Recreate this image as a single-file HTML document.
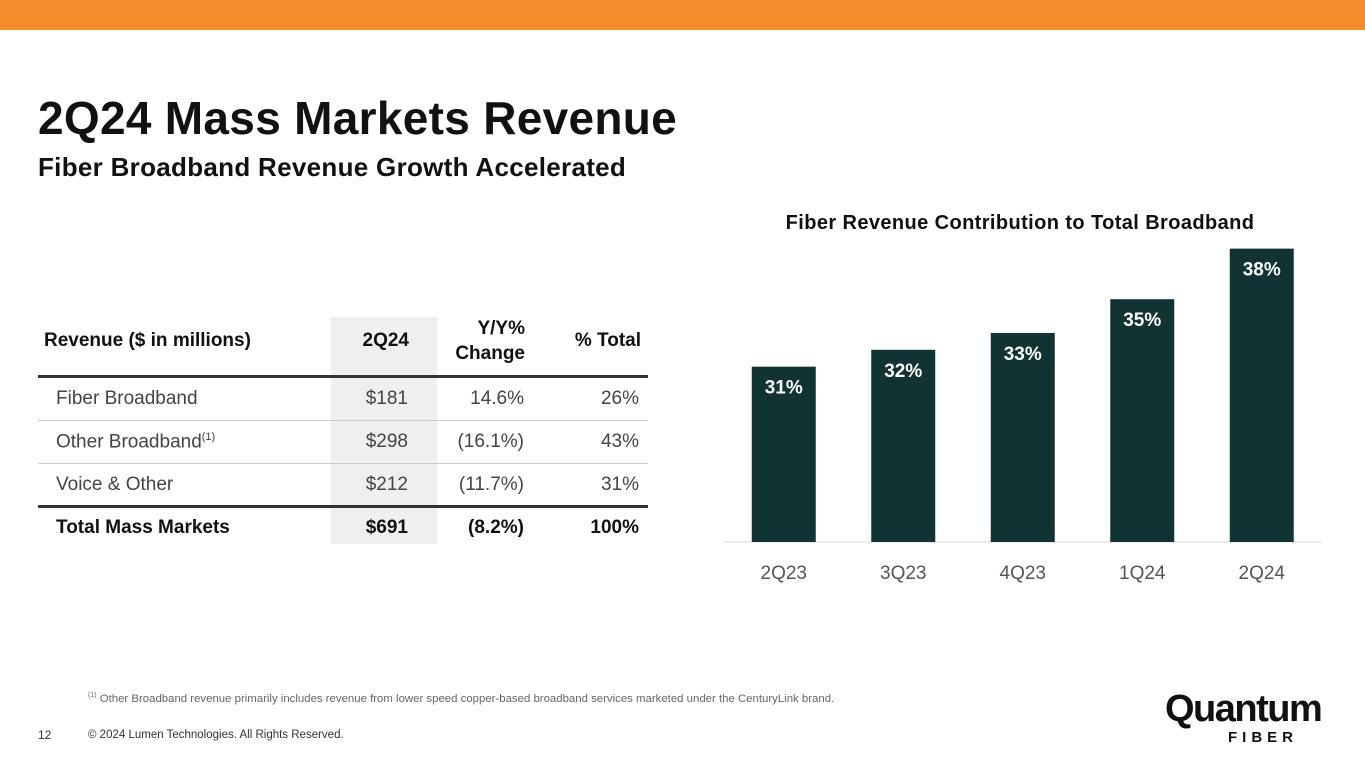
<!DOCTYPE html>
<html><head><meta charset="utf-8"><style>
body{margin:0;width:1365px;height:768px;position:relative;background:#fff;font-family:"Liberation Sans",sans-serif;overflow:hidden;color:#111}
.a{position:absolute;white-space:nowrap}
.c{position:absolute;text-align:right}
</style></head><body>
<div class="a" style="left:0;top:0;width:1365px;height:30px;background:#F68B2C"></div>
<div class="a" style="left:38px;top:91px;font-size:46px;font-weight:bold;letter-spacing:0.3px;color:#111">2Q24 Mass Markets Revenue</div>
<div class="a" style="left:38px;top:152px;font-size:26px;font-weight:bold;letter-spacing:0.3px;color:#111">Fiber Broadband Revenue Growth Accelerated</div>

<div>
<div class="a" style="left:331px;top:317px;width:106px;height:227px;background:#efefef"></div>
<div class="a" style="left:44px;top:330px;font-size:19px;font-weight:bold">Revenue ($ in millions)</div>
<div class="c" style="left:331px;width:78px;top:330px;font-size:19px;font-weight:bold">2Q24</div>
<div class="c" style="left:420px;width:105px;top:316px;font-size:19px;font-weight:bold;line-height:25px">Y/Y%<br>Change</div>
<div class="c" style="left:540px;width:101px;top:330px;font-size:19px;font-weight:bold">% Total</div>
<div class="a" style="left:38px;top:375px;width:610px;height:3px;background:#333"></div>
<div class="a" style="left:56px;top:388px;font-size:19px;color:#444">Fiber Broadband</div>
<div class="c" style="left:331px;width:77px;top:388px;font-size:19px;color:#444">$181</div>
<div class="c" style="left:420px;width:104px;top:388px;font-size:19px;color:#444">14.6%</div>
<div class="c" style="left:540px;width:99px;top:388px;font-size:19px;color:#444">26%</div>
<div class="a" style="left:38px;top:420px;width:610px;height:1px;background:#ccc"></div>
<div class="a" style="left:56px;top:431px;font-size:19px;color:#444">Other Broadband<sup style="font-size:11px">(1)</sup></div>
<div class="c" style="left:331px;width:77px;top:431px;font-size:19px;color:#444">$298</div>
<div class="c" style="left:420px;width:104px;top:431px;font-size:19px;color:#444">(16.1%)</div>
<div class="c" style="left:540px;width:99px;top:431px;font-size:19px;color:#444">43%</div>
<div class="a" style="left:38px;top:463px;width:610px;height:1px;background:#ccc"></div>
<div class="a" style="left:56px;top:474px;font-size:19px;color:#444">Voice &amp; Other</div>
<div class="c" style="left:331px;width:77px;top:474px;font-size:19px;color:#444">$212</div>
<div class="c" style="left:420px;width:104px;top:474px;font-size:19px;color:#444">(11.7%)</div>
<div class="c" style="left:540px;width:99px;top:474px;font-size:19px;color:#444">31%</div>
<div class="a" style="left:38px;top:505px;width:610px;height:3px;background:#333"></div>
<div class="a" style="left:56px;top:517px;font-size:19px;font-weight:bold">Total Mass Markets</div>
<div class="c" style="left:331px;width:77px;top:517px;font-size:19px;font-weight:bold">$691</div>
<div class="c" style="left:420px;width:104px;top:517px;font-size:19px;font-weight:bold">(8.2%)</div>
<div class="c" style="left:540px;width:99px;top:517px;font-size:19px;font-weight:bold">100%</div>
</div>

<div class="a" style="left:720px;width:600px;text-align:center;top:212px;font-size:20px;font-weight:bold;letter-spacing:0.4px">Fiber Revenue Contribution to Total Broadband</div>
<svg id="chart" class="a" style="left:0;top:0" width="1365" height="768"></svg>

<div class="a" style="left:88px;top:692px;font-size:11.4px;color:#666"><sup style="font-size:7px">(1)</sup> Other Broadband revenue primarily includes revenue from lower speed copper-based broadband services marketed under the CenturyLink brand.</div>
<div class="a" style="left:38px;top:728px;font-size:12px;color:#333">12</div>
<div class="a" style="left:88px;top:729px;font-size:11.5px;color:#333">© 2024 Lumen Technologies. All Rights Reserved.</div>
<div class="a" style="left:1165px;top:688px;font-size:38px;font-weight:bold;letter-spacing:-1.5px;color:#111">Quantum</div>
<div class="a" style="left:1228px;top:729px;font-size:15px;font-weight:bold;letter-spacing:5px;color:#111">FIBER</div>

<script>
const categories=["2Q23","3Q23","4Q23","1Q24","2Q24"];
const values=[31,32,33,35,38];
const labels=["31%","32%","33%","35%","38%"];
const svg=document.getElementById('chart');
const NS="http://www.w3.org/2000/svg";
const x0=724,step=119.5,bw=64,base=542,vmin=20.6,k=16.86;
function xc(i){return x0+step*(i+0.5);}
function y(v){return base-(v-vmin)*k;}
const axis=document.createElementNS(NS,'line');
axis.setAttribute('x1',724);axis.setAttribute('x2',1322);axis.setAttribute('y1',base);axis.setAttribute('y2',base);axis.setAttribute('stroke','#d9d9d9');


svg.appendChild(axis);
values.forEach((v,i)=>{
 const r=document.createElementNS(NS,'rect');
 r.setAttribute('x',xc(i)-bw/2);r.setAttribute('y',y(v));r.setAttribute('width',bw);r.setAttribute('height',base-y(v));r.setAttribute('fill','#123334');
 
 
 svg.appendChild(r);
 const t=document.createElementNS(NS,'text');
 t.setAttribute('x',xc(i));t.setAttribute('y',y(v)+27);t.setAttribute('text-anchor','middle');t.setAttribute('fill','#fff');t.setAttribute('font-size','19');t.setAttribute('font-weight','bold');t.setAttribute('font-family','Liberation Sans, sans-serif');
 t.textContent=labels[i];
 
 
 svg.appendChild(t);
 const c=document.createElementNS(NS,'text');
 c.setAttribute('x',xc(i));c.setAttribute('y',579);c.setAttribute('text-anchor','middle');c.setAttribute('fill','#555');c.setAttribute('font-size','19');c.setAttribute('font-family','Liberation Sans, sans-serif');
 c.textContent=categories[i];
 
 
 svg.appendChild(c);
});
</script>
</body></html>
